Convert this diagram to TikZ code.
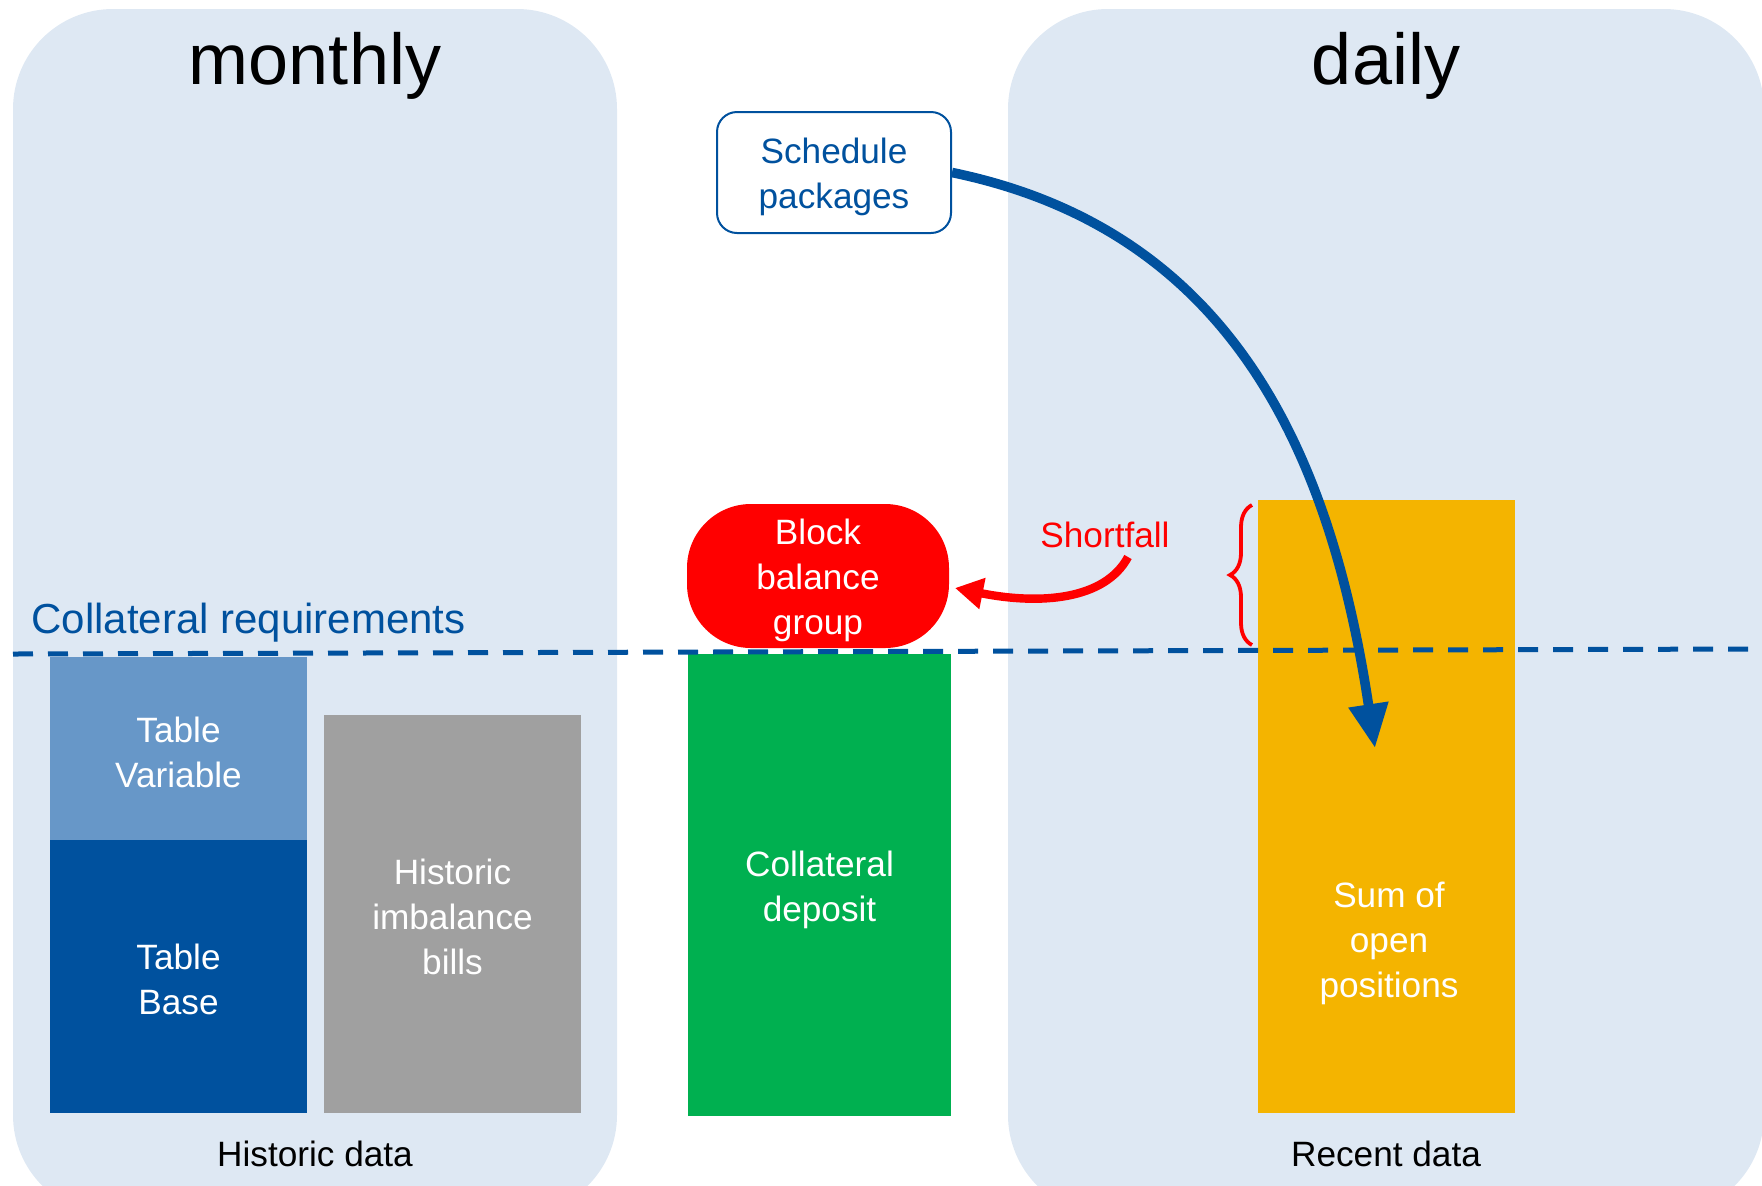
\documentclass[tikz,border=0pt]{standalone}
\usepackage{fontspec}
\setmainfont{Liberation Sans}
\usetikzlibrary{arrows.meta,decorations.pathreplacing}

\definecolor{panelblue}{RGB}{222,232,243}
\definecolor{darkblue}{RGB}{0,81,158}
\definecolor{varblue}{RGB}{103,151,200}
\definecolor{histgray}{RGB}{160,160,160}
\definecolor{depgreen}{RGB}{0,176,80}
\definecolor{posorange}{RGB}{244,180,0}
\definecolor{alertred}{RGB}{255,0,0}

\newcommand{\bodyfont}{\fontsize{17.6}{22.5}\selectfont}

\tikzset{
  panel/.style={fill=panelblue, rounded corners=50pt, inner sep=0pt, draw=none},
  bar/.style={inner sep=0pt},
  bartext/.style={inner sep=0pt, text=white, align=center, font=\bodyfont},
  caption/.style={inner sep=0pt, font=\bodyfont},
  heading/.style={inner sep=0pt, font=\fontsize{36}{40}\selectfont},
  flow/.style={darkblue, line width=4.8pt, -{Triangle[length=22pt,width=19pt]}},
  deficit/.style={alertred, line width=4.2pt, -{Triangle[length=14pt,width=15pt]}},
  reqline/.style={darkblue, line width=2.5pt, dash pattern=on 10pt off 7.5pt},
}

\begin{document}
\begin{tikzpicture}[x=0.5pt,y=-0.5pt]
\useasboundingbox (0,0) rectangle (1762,1185);
\clip (0,0) rectangle (1762,1185);

% time-scale panels
\node[panel, minimum width=302pt, minimum height=603pt] (monthpanel) at (315,612) {};
\node[panel, minimum width=378pt, minimum height=603pt] (daypanel) at (1386,612) {};

\node[heading, anchor=base] (monthly) at (315,84) {monthly};
\node[heading, anchor=base] (daily) at (1386,84) {daily};

% bars
\node[bar, fill=varblue, minimum width=128.5pt, minimum height=91.5pt] (tvar) at (178.5,748.5) {};
\node[bar, fill=darkblue, minimum width=128.5pt, minimum height=136.5pt] (tbase) at (178.5,976.5) {};
\node[bar, fill=histgray, minimum width=128.5pt, minimum height=199pt] (hist) at (452.5,914) {};
\node[bar, fill=depgreen, minimum width=131.5pt, minimum height=231pt] (deposit) at (819.5,885) {};
\node[bar, fill=posorange, minimum width=128.5pt, minimum height=306.5pt] (open) at (1386.5,806.5) {};

\node[bartext] (tvartxt) at ([yshift=-2pt]tvar.center) {Table\\Variable};
\node[bartext] (tbasetxt) at ([yshift=-1.5pt]tbase.center) {Table\\Base};
\node[bartext] (histtxt) at ([yshift=-1.5pt]hist.center) {Historic\\imbalance\\bills};
\node[bartext] (deposittxt) at ([yshift=-2.5pt]deposit.center) {Collateral\\deposit};
\node[bartext] (opentxt) at (1389,943) {Sum of\\open\\positions};

% captions
\node[caption, anchor=base] (histcap) at (315,1166) {Historic data};
\node[caption, anchor=base] (recentcap) at (1386,1166) {Recent data};

% collateral requirement level
\node[inner sep=0pt, anchor=base west, text=darkblue, font=\fontsize{21}{25}\selectfont] (reqlabel) at (31,633) {Collateral requirements};
\coordinate (reqleft) at (13,654);
\coordinate (reqright) at (1752,649);
\draw[reqline] (reqleft) -- (reqright);

% schedule packages and block
\node[draw=darkblue, line width=1pt, fill=white, rounded corners=10pt, inner sep=0pt, minimum width=117pt, minimum height=60.5pt] (sched) at (834,172.5) {};
\node[bartext, text=darkblue] (schedtxt) at ([yshift=-2pt]sched.center) {Schedule\\packages};
\node[fill=alertred, rounded corners=32pt, inner sep=0pt, minimum width=131pt, minimum height=72pt] (block) at (818,576) {};
\node[bartext] (blocktxt) at ([yshift=-2.2pt]block.center) {Block\\balance\\group};

% shortfall
\node[inner sep=0pt, anchor=base, text=alertred, font=\bodyfont] (shortfall) at (1105,547) {Shortfall};
\coordinate (sfstart) at (1128,557);
\coordinate (blocktip) at (955,588);
\draw[deficit] (sfstart) .. controls (1105,600) and (1040,605) .. (blocktip);

\coordinate (bracelow) at (1252,645);
\coordinate (bracehigh) at (1252,505);
\draw[alertred, line width=1.9pt, decorate, decoration={brace, amplitude=11pt}] (bracelow) -- (bracehigh);

% schedule packages feed the open positions
\coordinate (opentip) at (1375,748);
\draw[flow] (sched.east) .. controls (1230,230) and (1330,450) .. (opentip);
\end{tikzpicture}
\end{document}
